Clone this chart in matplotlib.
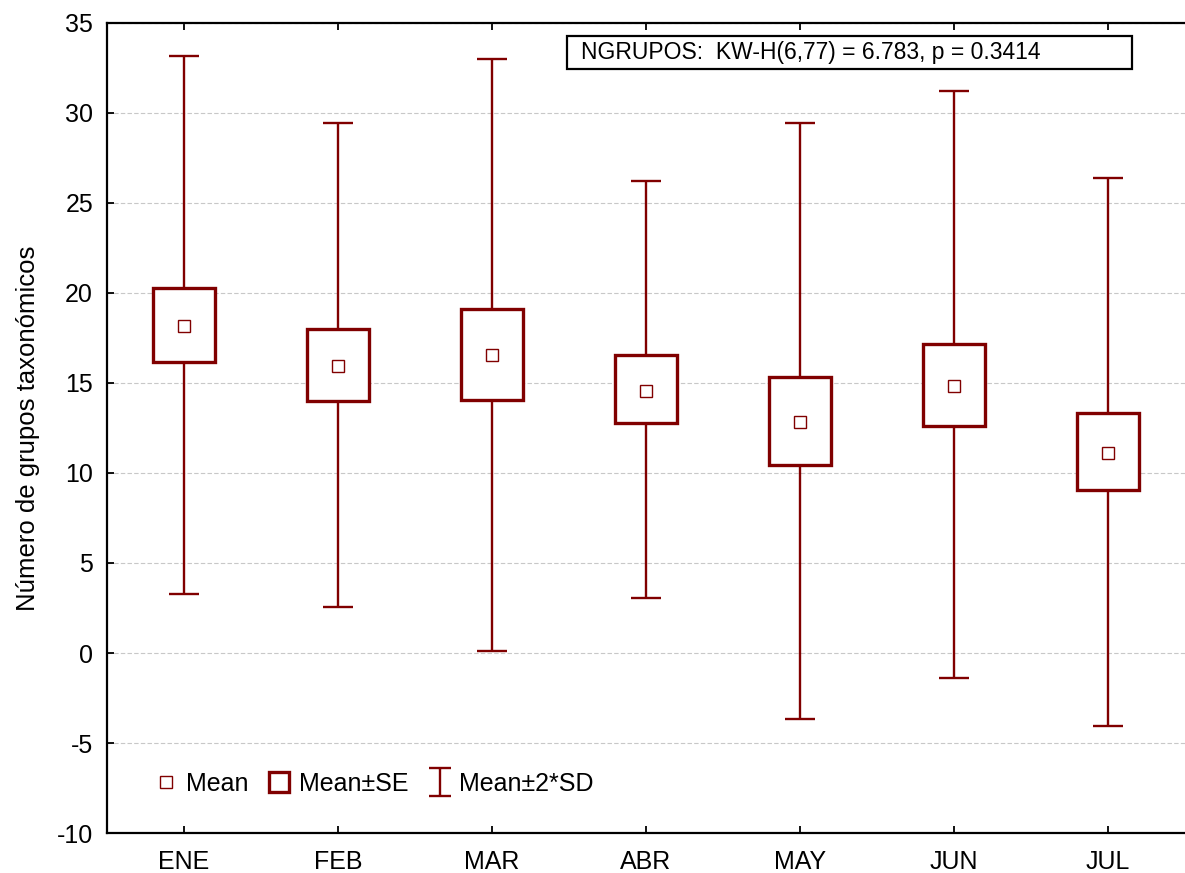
import matplotlib
matplotlib.use('Agg')
import matplotlib.pyplot as plt
from matplotlib.patches import Rectangle
from matplotlib.lines import Line2D
from matplotlib.path import Path

plt.rcParams['font.family'] = ['Liberation Sans', 'DejaVu Sans']
plt.rcParams['axes.unicode_minus'] = False

months = ['ENE', 'FEB', 'MAR', 'ABR', 'MAY', 'JUN', 'JUL']
mean = [18.17, 15.94, 16.56, 14.56, 12.83, 14.83, 11.11]
se_low = [16.17, 14.0, 14.06, 12.78, 10.44, 12.61, 9.06]
se_high = [20.28, 18.0, 19.1, 16.56, 15.33, 17.17, 13.33]
sd_low = [3.28, 2.56, 0.11, 3.06, -3.67, -1.39, -4.06]
sd_high = [33.17, 29.44, 33.0, 26.2, 29.44, 31.2, 26.4]

red = '#800000'

fig = plt.figure(figsize=(11.85, 8.73), dpi=100)
ax = fig.add_axes([0.0903, 0.0458, 0.9097, 0.9279])

x = list(range(len(months)))
for i in x:
    # whisker: mean +- 2*SD
    ax.errorbar(i, mean[i], yerr=[[mean[i] - sd_low[i]], [sd_high[i] - mean[i]]],
                fmt='none', ecolor=red, elinewidth=1.7, capsize=11, capthick=1.7, zorder=2)
    # box: mean +- SE
    ax.add_patch(Rectangle((i - 0.2, se_low[i]), 0.4, se_high[i] - se_low[i],
                           facecolor='white', edgecolor=red, linewidth=2.4, zorder=3))
ax.plot(x, mean, linestyle='none', marker='s', markersize=8.5, markerfacecolor='white',
        markeredgecolor=red, markeredgewidth=1.0, zorder=4)

ax.set_xlim(-0.5, 6.5)
ax.set_ylim(-10, 35)
ax.set_xticks(x)
ax.set_xticklabels(months)
ax.set_yticks(range(-10, 36, 5))
ax.tick_params(axis='both', direction='in', labelsize=18, length=5, width=1.3, top=True)
ax.tick_params(axis='y', pad=10)
ax.tick_params(axis='x', pad=12)
ax.yaxis.grid(True, linestyle=(0, (4, 2)), color='#c8c8c8', linewidth=0.8)
ax.set_axisbelow(True)
for s in ['left', 'bottom', 'top']:
    ax.spines[s].set_linewidth(1.6)
ax.spines['right'].set_visible(False)
ax.set_ylabel('Número de grupos taxonómicos', fontsize=18.5, labelpad=12)

# statistics box
ax.add_patch(Rectangle((0.4267, 0.9432), 0.5241, 0.0408, transform=ax.transAxes,
                       facecolor='white', edgecolor='black', linewidth=1.6, zorder=5))
ax.text(0.4397, 0.9636, 'NGRUPOS:  KW-H(6,77) = 6.783, p = 0.3414', transform=ax.transAxes,
        fontsize=16.5, va='center', ha='left', zorder=6)

ipath = Path([(-0.39, -0.5), (0.39, -0.5), (0, -0.5), (0, 0.5), (-0.39, 0.5), (0.39, 0.5)],
             [Path.MOVETO, Path.LINETO, Path.MOVETO, Path.LINETO, Path.MOVETO, Path.LINETO])
handles = [
    Line2D([], [], linestyle='none', marker='s', markersize=8.5, markerfacecolor='white',
           markeredgecolor=red, markeredgewidth=1.0),
    Line2D([], [], linestyle='none', marker='s', markersize=14.5, markerfacecolor='white',
           markeredgecolor=red, markeredgewidth=2.4),
    Line2D([], [], linestyle='none', marker=ipath, markersize=20, markerfacecolor='none',
           markeredgecolor=red, markeredgewidth=1.7),
]
ax.legend(handles, ['Mean', 'Mean±SE', 'Mean±2*SD'], loc='center left', ncol=3,
          frameon=False, fontsize=18, handlelength=0.8, handletextpad=0.38,
          columnspacing=0.85, borderpad=0, borderaxespad=0,
          bbox_to_anchor=(0.0455, 0.061))

fig.savefig('out.png', dpi=100)
